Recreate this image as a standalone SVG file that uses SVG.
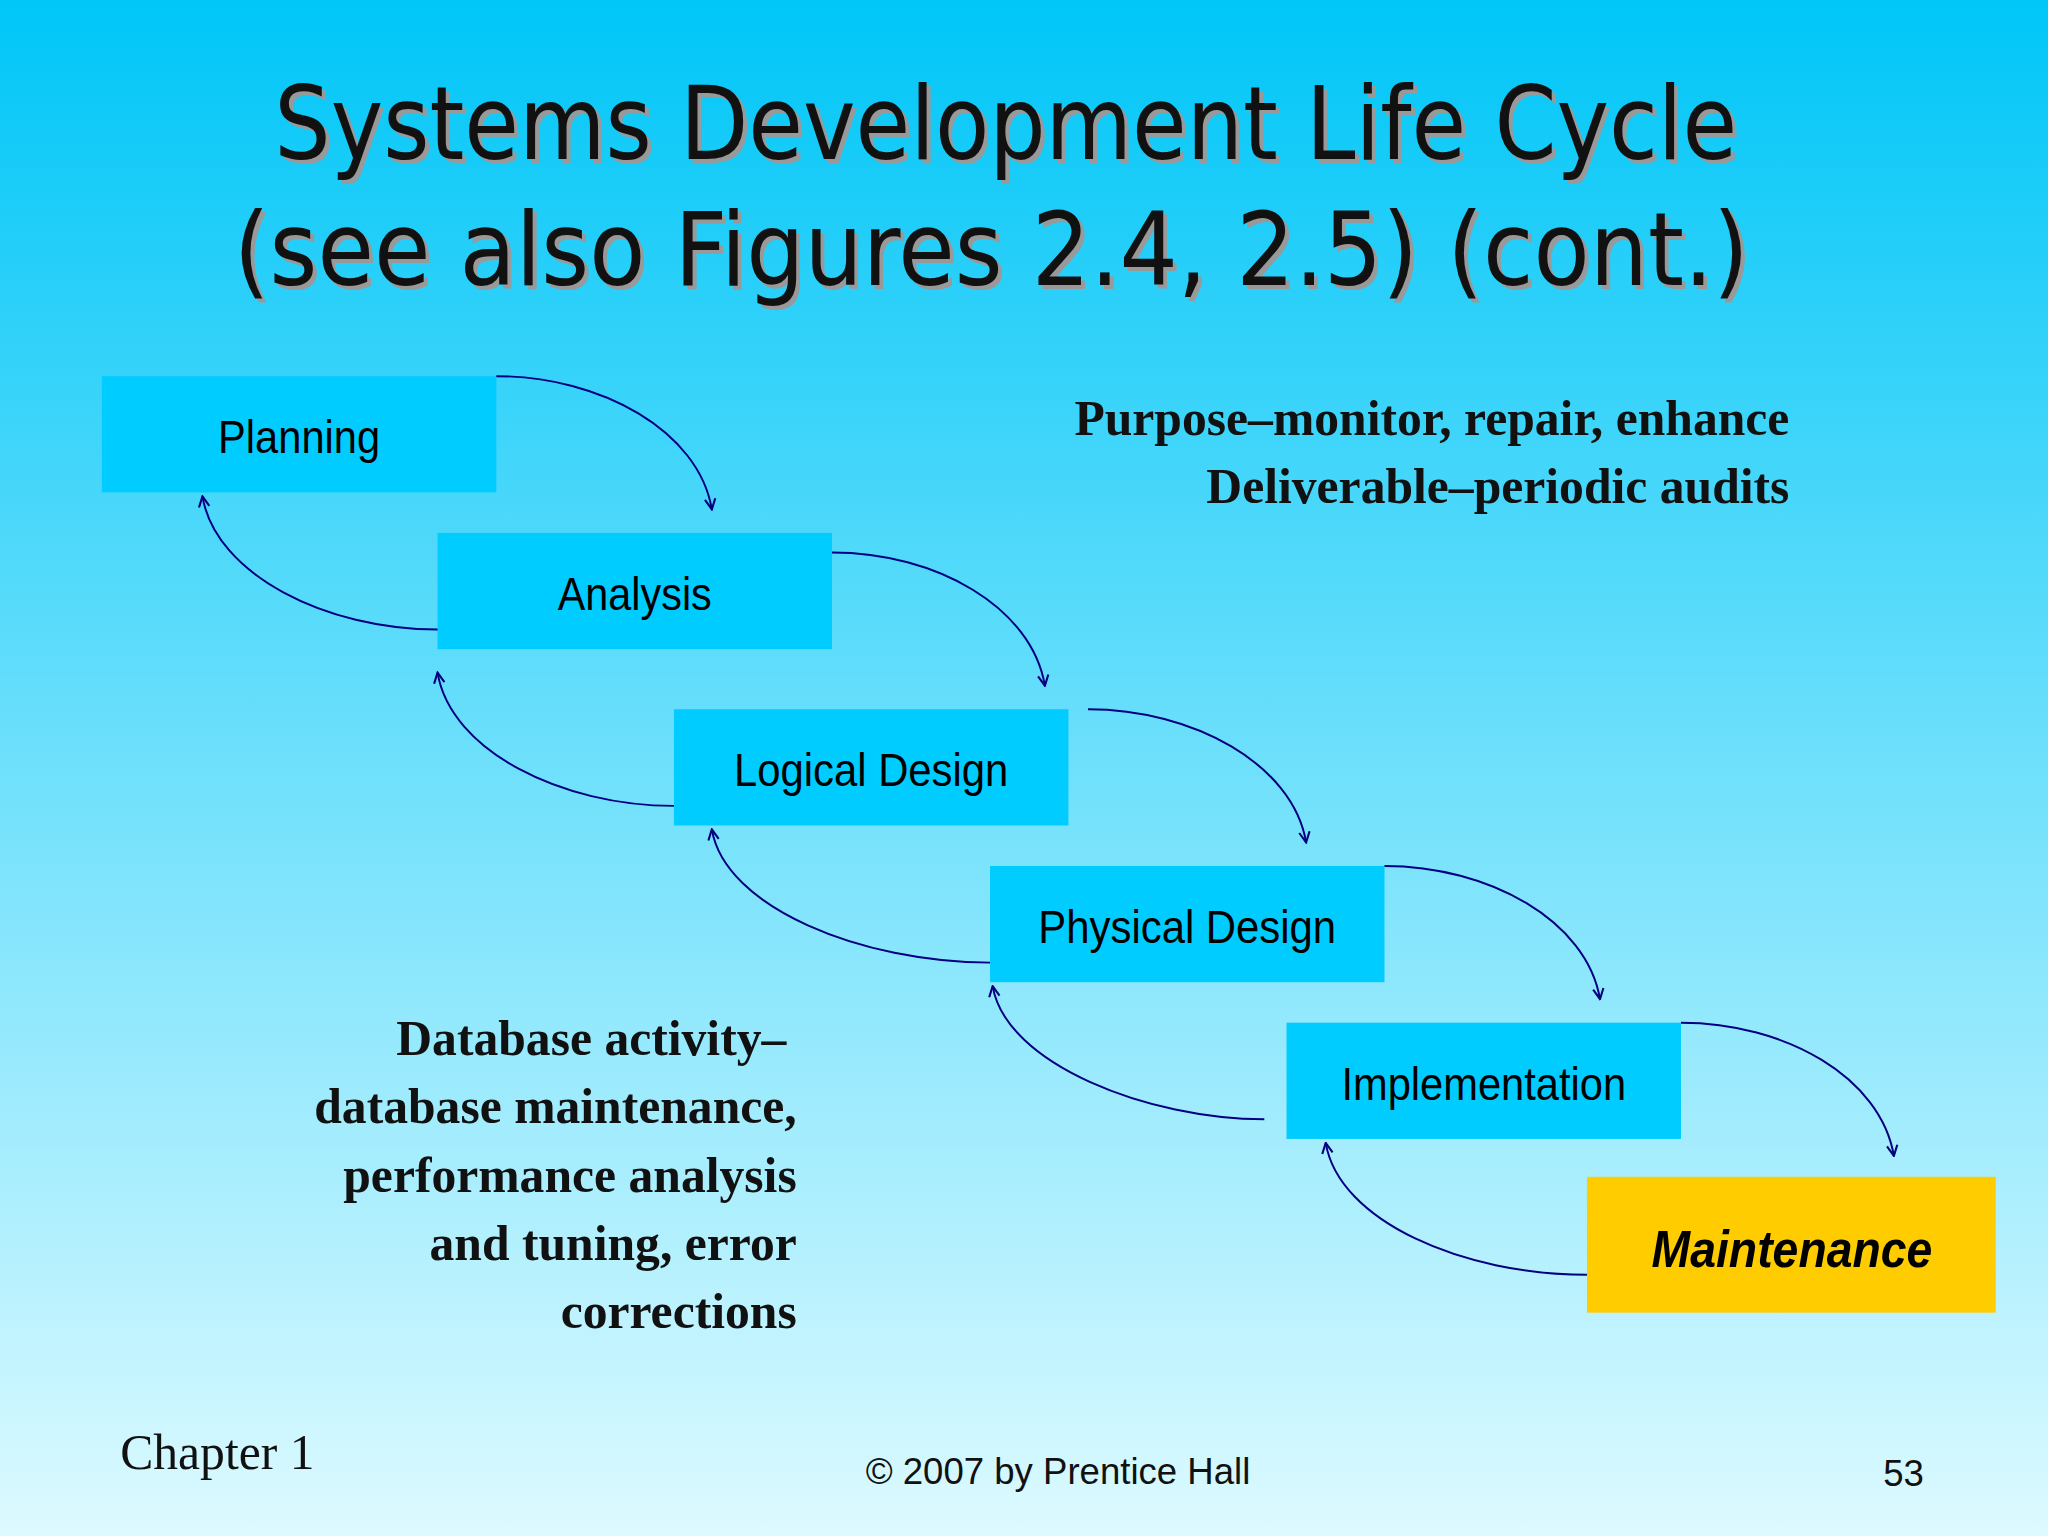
<svg xmlns="http://www.w3.org/2000/svg" width="2048" height="1536" viewBox="0 0 2048 1536">
<defs>
<linearGradient id="bg" x1="0" y1="0" x2="0" y2="1">
<stop offset="0" stop-color="#00C6F8"/>
<stop offset="1" stop-color="#DDFAFF"/>
</linearGradient>
<marker id="ah" viewBox="0 0 10 10" refX="9" refY="5" markerWidth="10" markerHeight="10" markerUnits="userSpaceOnUse" orient="auto">
<path d="M1,1 L9,5 L1,9" fill="none" stroke="#000080" stroke-width="1.6"/>
</marker>
<style>
.box{fill:#00CCFF}
.lbl{font-family:"Liberation Sans",Arial,sans-serif;font-size:36px;fill:#000;text-anchor:middle}
.ttl{font-family:"DejaVu Sans",Verdana,sans-serif;font-size:78px;text-anchor:middle}
.ser{font-family:"Liberation Serif","Times New Roman",serif;font-size:38px;font-weight:bold;fill:#111;text-anchor:end}
.arc{fill:none;stroke:#000080;stroke-width:1.5;marker-end:url(#ah)}
</style>
</defs>
<rect width="2048" height="1536" fill="url(#bg)"/>
<g transform="scale(1.30612)">
<g id="title">
<text class="ttl" x="773" y="125" fill="#999" textLength="1120" lengthAdjust="spacingAndGlyphs">Systems Development Life Cycle</text>
<text class="ttl" x="770" y="122" fill="#111" textLength="1120" lengthAdjust="spacingAndGlyphs">Systems Development Life Cycle</text>
<text class="ttl" x="762" y="221" fill="#999" textLength="1160" lengthAdjust="spacingAndGlyphs">(see also Figures 2.4, 2.5) (cont.)</text>
<text class="ttl" x="759" y="218" fill="#111" textLength="1160" lengthAdjust="spacingAndGlyphs">(see also Figures 2.4, 2.5) (cont.)</text>
</g>
<g id="planning"><rect class="box" x="78" y="288" width="302" height="89"/><text class="lbl" x="229" y="347" textLength="124" lengthAdjust="spacingAndGlyphs">Planning</text></g>
<g id="analysis"><rect class="box" x="335" y="408" width="302" height="89"/><text class="lbl" x="486" y="467" textLength="118" lengthAdjust="spacingAndGlyphs">Analysis</text></g>
<g id="logical"><rect class="box" x="516" y="543" width="302" height="89"/><text class="lbl" x="667" y="602" textLength="210" lengthAdjust="spacingAndGlyphs">Logical Design</text></g>
<g id="physical"><rect class="box" x="758" y="663" width="302" height="89"/><text class="lbl" x="909" y="722" textLength="228" lengthAdjust="spacingAndGlyphs">Physical Design</text></g>
<g id="implementation"><rect class="box" x="985" y="783" width="302" height="89"/><text class="lbl" x="1136" y="842" textLength="218" lengthAdjust="spacingAndGlyphs">Implementation</text></g>
<g id="maintenance"><rect x="1215" y="901" width="313" height="104" fill="#FFCC00"/><text class="lbl" x="1372" y="970" style="font-weight:bold;font-style:italic;font-size:40px" textLength="215" lengthAdjust="spacingAndGlyphs">Maintenance</text></g>
<g id="connectors">
<path class="arc" d="M380,288 C460,288 535,330 545,390"/>
<path class="arc" d="M637,423 C717,423 790,465 800,525"/>
<path class="arc" d="M833,543 C913,543 990,585 1000,645"/>
<path class="arc" d="M1060,663 C1140,663 1215,705 1225,765"/>
<path class="arc" d="M1287,783 C1367,783 1440,825 1450,885"/>
<path class="arc" d="M335,482 C250,482 165,440 155,380"/>
<path class="arc" d="M516,617 C430,617 345,575 335,515"/>
<path class="arc" d="M758,737 C660,737 555,695 545,635"/>
<path class="arc" d="M968,857 C880,857 770,815 760,755"/>
<path class="arc" d="M1215,976 C1120,976 1025,935 1015,875"/>
</g>
<g id="notes">
<text class="ser" x="1370" y="333">Purpose–monitor, repair, enhance</text>
<text class="ser" x="1370" y="385">Deliverable–periodic audits</text>
<text class="ser" x="602" y="808">Database activity–</text>
<text class="ser" x="610" y="860">database maintenance,</text>
<text class="ser" x="610" y="913">performance analysis</text>
<text class="ser" x="610" y="965">and tuning, error</text>
<text class="ser" x="610" y="1017">corrections</text>
</g>
<g id="footer">
<text x="92" y="1125" style="font-family:'Liberation Serif',serif;font-size:38px;fill:#111">Chapter 1</text>
<text x="810" y="1136" style="font-family:'Liberation Sans',Arial,sans-serif;font-size:28px;fill:#111;text-anchor:middle">© 2007 by Prentice Hall</text>
<text x="1473" y="1138" style="font-family:'Liberation Sans',Arial,sans-serif;font-size:28px;fill:#111;text-anchor:end">53</text>
</g>
</g>
</svg>
